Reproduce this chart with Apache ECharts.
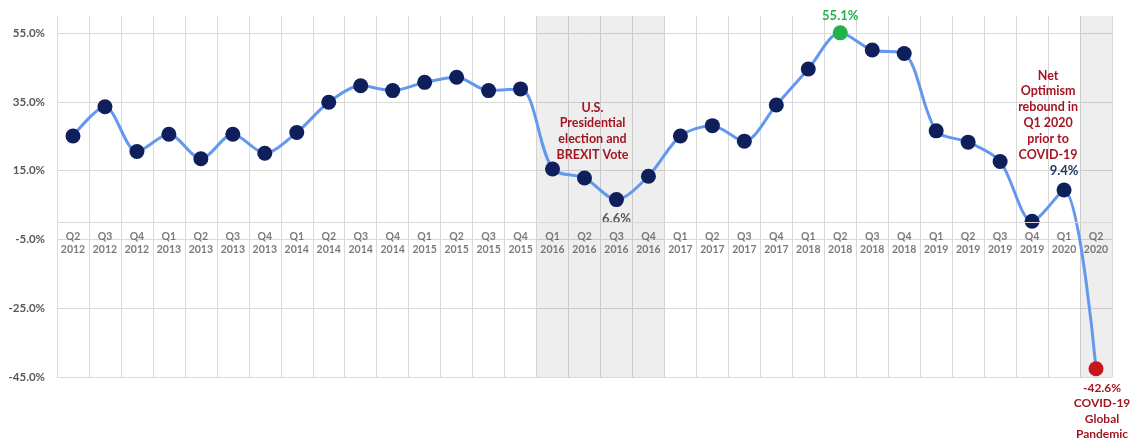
<!DOCTYPE html>
<html>
<head>
<meta charset="utf-8">
<script src="https://cdn.jsdelivr.net/npm/echarts@6/dist/echarts.min.js"></script>
<style>
  html, body { margin: 0; padding: 0; background: #ffffff; }
  #chart { width: 1133px; height: 443px; }
</style>
</head>
<body>
<div id="chart"></div>
<script>
// Quarterly net optimism, Q2 2012 – Q2 2020
const quarters = [
  'Q2 2012', 'Q3 2012', 'Q4 2012',
  'Q1 2013', 'Q2 2013', 'Q3 2013', 'Q4 2013',
  'Q1 2014', 'Q2 2014', 'Q3 2014', 'Q4 2014',
  'Q1 2015', 'Q2 2015', 'Q3 2015', 'Q4 2015',
  'Q1 2016', 'Q2 2016', 'Q3 2016', 'Q4 2016',
  'Q1 2017', 'Q2 2017', 'Q3 2017', 'Q4 2017',
  'Q1 2018', 'Q2 2018', 'Q3 2018', 'Q4 2018',
  'Q1 2019', 'Q2 2019', 'Q3 2019', 'Q4 2019',
  'Q1 2020', 'Q2 2020'
];
const netOptimism = [
  25.1, 33.6, 20.6,
  25.6, 18.5, 25.6, 20.1,
  26.1, 34.9, 39.7, 38.3,
  40.7, 42.2, 38.3, 38.8,
  15.5, 12.9, 6.6, 13.4,
  25.1, 28.1, 23.6, 34.1,
  44.6, 55.1, 50.1, 49.1,
  26.6, 23.3, 17.7, 0.3,
  9.4, -42.6
];

// Value axis
const yMin = -45;
const yMax = 60;
const yStep = 20;
// Category labels sit on the zero line
const baselineValue = 0;

// Shaded periods (first and last quarter)
const shadedPeriods = [['Q1 2016', 'Q4 2016'], ['Q2 2020', 'Q2 2020']];

// Highlighted points
const peakQuarter = 'Q2 2018';
const troughQuarter = 'Q3 2016';
const reboundQuarter = 'Q1 2020';
const crashQuarter = 'Q2 2020';

// Notes
const electionNote = ['U.S.', 'Presidential', 'election and', 'BREXIT Vote'];
const reboundNote = ['Net', 'Optimism', 'rebound in', 'Q1 2020', 'prior to', 'COVID-19'];
const pandemicNote = ['COVID-19', 'Global', 'Pandemic'];

const FONT = 'Lato';
const GREY_TEXT = '#595959';
const NOTE_RED = '#A31621';
const GRID_GREY = '#d9d9d9';

const pct = v => v.toFixed(1) + '%';

const seriesData = netOptimism.map((v, i) => {
  const q = quarters[i];
  const item = { value: v };
  if (q === peakQuarter) {
    item.itemStyle = { color: '#22B24C' };
    item.label = { show: true, position: 'top', distance: 3, color: '#22B24C' };
  } else if (q === troughQuarter) {
    item.label = { show: true, position: 'bottom', distance: 5, color: GREY_TEXT };
  } else if (q === reboundQuarter) {
    item.label = { show: true, position: 'top', distance: 5, color: '#1F3864' };
  } else if (q === crashQuarter) {
    item.itemStyle = { color: '#C8161D' };
    item.label = {
      show: true, position: 'bottom', distance: 4, offset: [6, 0],
      color: NOTE_RED, fontSize: 12, lineHeight: 15.5,
      formatter: p => pct(p.value) + '\n' + pandemicNote.join('\n')
    };
  }
  return item;
});

const bandAreas = shadedPeriods.map(([a, b]) => [
  { xAxis: quarters.indexOf(a) - 0.5 },
  { xAxis: quarters.indexOf(b) + 0.5 }
]);

const chart = echarts.init(document.getElementById('chart'), null, { renderer: 'canvas' });

chart.setOption({
  animation: false,
  backgroundColor: '#ffffff',
  textStyle: { fontFamily: FONT },
  grid: { left: 57, right: 21, top: 16, bottom: 66, containLabel: false },
  xAxis: [
    {
      type: 'category',
      data: quarters,
      boundaryGap: true,
      axisLine: { show: false },
      axisTick: { show: false },
      axisLabel: { show: false },
      splitLine: { show: true, interval: 0, lineStyle: { color: GRID_GREY, width: 1 } }
    },
    {
      type: 'value',
      min: -0.5,
      max: quarters.length - 0.5,
      show: false
    }
  ],
  yAxis: {
    type: 'value',
    min: yMin,
    max: yMax,
    interval: yStep,
    axisLine: { show: false, onZero: false },
    axisTick: { show: false },
    splitLine: { show: true, showMaxLine: false, lineStyle: { color: GRID_GREY, width: 1 } },
    axisLabel: {
      showMaxLabel: false, margin: 12,
      color: GREY_TEXT, fontFamily: FONT, fontWeight: 'bold', fontSize: 11.5,
      formatter: v => pct(v)
    }
  },
  series: [
    {
      name: 'Shaded periods',
      type: 'line',
      xAxisIndex: 1,
      data: [],
      silent: true,
      markArea: {
        silent: true,
        itemStyle: { color: 'rgba(0,0,0,0.065)' },
        data: bandAreas
      }
    },
    {
      // quarter labels hung from the zero line
      name: 'Quarter labels',
      type: 'scatter',
      data: quarters.map(q => [q, baselineValue]),
      symbolSize: 0,
      silent: true,
      z: 1,
      label: {
        show: true, position: 'bottom', distance: 8,
        color: GREY_TEXT, fontFamily: FONT, fontWeight: 'bold', fontSize: 10.5, lineHeight: 13,
        formatter: p => quarters[p.dataIndex].replace(' ', '\n')
      },
      markLine: {
        silent: true,
        symbol: 'none',
        label: { show: false },
        lineStyle: { color: GRID_GREY, width: 1, type: 'solid' },
        data: [{ yAxis: baselineValue }]
      }
    },
    {
      name: 'Net Optimism',
      type: 'line',
      data: seriesData,
      smooth: 0.3,
      symbol: 'circle',
      symbolSize: 15,
      z: 3,
      lineStyle: { color: '#6498EE', width: 3 },
      itemStyle: { color: '#0E1F5B' },
      label: {
        show: false,
        fontFamily: FONT, fontWeight: 'bold', fontSize: 13,
        formatter: p => pct(p.value)
      },
      markPoint: {
        silent: true,
        symbol: 'circle',
        symbolSize: 1,
        itemStyle: { color: 'rgba(0,0,0,0)' },
        label: {
          show: true, position: 'inside',
          color: NOTE_RED, fontFamily: FONT, fontWeight: 'bold', fontSize: 12.5, lineHeight: 15.8
        },
        data: [
          { coord: ['Q2 2016', 26.5], label: { offset: [8, 0], formatter: electionNote.join('\n') } },
          { coord: ['Q4 2019', 31.2], label: { offset: [16, 0], formatter: reboundNote.join('\n') } }
        ]
      }
    }
  ]
});
</script>
</body>
</html>
